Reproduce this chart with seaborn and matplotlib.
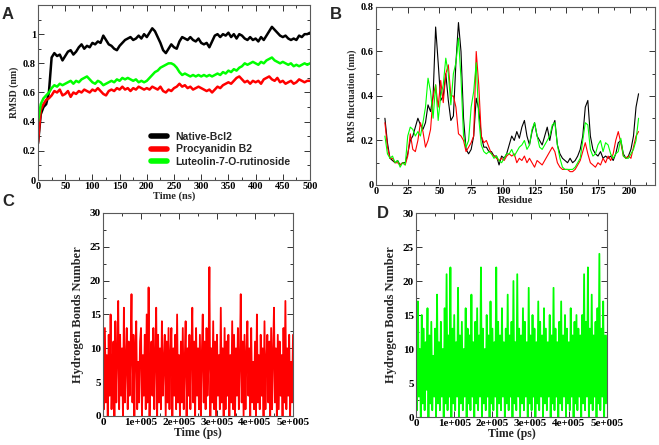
import numpy as np
import pandas as pd
import matplotlib
matplotlib.use("Agg")
import matplotlib.pyplot as plt
import seaborn as sns
from matplotlib.ticker import MultipleLocator

# ---------------- Panel A data (RMSD, nm) ----------------
time_ns = list(range(0, 501, 5))
rmsd_native = [
    0.25, 0.45, 0.50, 0.52, 0.60, 0.84, 0.87, 0.85, 0.86, 0.82,
    0.85, 0.88, 0.89, 0.86, 0.88, 0.91, 0.93, 0.90, 0.92, 0.91,
    0.94, 0.93, 0.95, 0.94, 0.99, 0.96, 0.93, 0.92, 0.90, 0.89,
    0.92, 0.94, 0.96, 0.97, 0.98, 0.96, 0.97, 0.99, 0.97, 1.00,
    0.98, 1.01, 1.04, 1.02, 0.98, 0.94, 0.89, 0.87, 0.90, 0.93,
    0.91, 0.90, 0.95, 0.98, 0.97, 0.96, 0.98, 0.96, 0.95, 0.97,
    0.94, 0.93, 0.94, 0.91, 0.95, 0.99, 1.00, 0.98, 1.00, 0.99,
    1.01, 0.98, 1.00, 0.97, 1.00, 0.99, 0.97, 0.96, 0.98, 0.96,
    0.97, 0.95, 0.98, 0.96, 0.99, 1.02, 1.05, 1.03, 1.01, 0.99,
    0.98, 0.99, 0.97, 0.96, 0.97, 0.96, 0.99, 0.98, 1.00, 1.00,
    1.01]
rmsd_procyanidin = [
    0.26, 0.48, 0.52, 0.55, 0.56, 0.58, 0.61, 0.60, 0.62, 0.58,
    0.59, 0.61, 0.57, 0.60, 0.59, 0.61, 0.60, 0.62, 0.61, 0.60,
    0.62, 0.61, 0.63, 0.61, 0.59, 0.58, 0.61, 0.62, 0.61, 0.63,
    0.62, 0.64, 0.62, 0.63, 0.61, 0.63, 0.62, 0.64, 0.63, 0.62,
    0.63, 0.62, 0.64, 0.63, 0.62, 0.64, 0.61, 0.60, 0.62, 0.61,
    0.63, 0.64, 0.66, 0.64, 0.65, 0.63, 0.64, 0.62, 0.63, 0.64,
    0.63, 0.62, 0.61, 0.62, 0.60, 0.62, 0.64, 0.63, 0.65, 0.66,
    0.67, 0.66, 0.68, 0.70, 0.71, 0.69, 0.67, 0.68, 0.66, 0.68,
    0.67, 0.68, 0.66, 0.69, 0.70, 0.71, 0.69, 0.68, 0.70, 0.67,
    0.68, 0.66, 0.67, 0.68, 0.66, 0.67, 0.69, 0.68, 0.67, 0.68,
    0.68]
rmsd_luteolin = [
    0.40, 0.52, 0.56, 0.58, 0.60, 0.63, 0.65, 0.64, 0.66, 0.65,
    0.66, 0.67, 0.68, 0.66, 0.68, 0.67, 0.69, 0.70, 0.71, 0.69,
    0.67, 0.66, 0.68, 0.67, 0.65, 0.66, 0.67, 0.68, 0.67, 0.69,
    0.68, 0.70, 0.69, 0.70, 0.69, 0.68, 0.69, 0.67, 0.68, 0.67,
    0.68, 0.70, 0.72, 0.74, 0.75, 0.77, 0.78, 0.79, 0.80, 0.80,
    0.79, 0.77, 0.74, 0.72, 0.73, 0.72, 0.71, 0.72, 0.71, 0.72,
    0.71, 0.72, 0.71, 0.72, 0.71, 0.72, 0.73, 0.72, 0.74, 0.73,
    0.75, 0.74, 0.76, 0.75, 0.77, 0.78, 0.80, 0.79, 0.80, 0.81,
    0.80, 0.79, 0.81, 0.80, 0.82, 0.83, 0.84, 0.82, 0.81, 0.80,
    0.81, 0.80, 0.79, 0.80, 0.78, 0.79, 0.78, 0.79, 0.80, 0.79,
    0.80]
series_names = ["Native-Bcl2", "Procyanidin B2", "Luteolin-7-O-rutinoside"]
series_colors = ["#000000", "#ff0000", "#00ff00"]

# ---------------- Panel B data (RMSF, nm) ----------------
residues = list(range(7, 208, 2))
rmsf_native = [
    0.30, 0.19, 0.12, 0.11, 0.10, 0.11, 0.09, 0.10, 0.10, 0.14,
    0.20, 0.22, 0.26, 0.30, 0.27, 0.25, 0.28, 0.36, 0.33, 0.40,
    0.71, 0.55, 0.38, 0.40, 0.50, 0.38, 0.29, 0.31, 0.55, 0.73,
    0.60, 0.30, 0.16, 0.14, 0.16, 0.22, 0.39, 0.34, 0.22, 0.17,
    0.17, 0.15, 0.15, 0.13, 0.13, 0.09, 0.13, 0.12, 0.14, 0.18,
    0.22, 0.20, 0.24, 0.21, 0.26, 0.29, 0.22, 0.18, 0.24, 0.28,
    0.22, 0.20, 0.18, 0.22, 0.26, 0.20, 0.26, 0.29, 0.18, 0.14,
    0.12, 0.11, 0.10, 0.12, 0.10, 0.11, 0.13, 0.16, 0.22, 0.35,
    0.38, 0.22, 0.16, 0.14, 0.13, 0.15, 0.12, 0.13, 0.12, 0.13,
    0.11, 0.14, 0.19, 0.20, 0.14, 0.12, 0.13, 0.16, 0.22, 0.35,
    0.41]
rmsf_procyanidin = [
    0.28, 0.17, 0.12, 0.12, 0.10, 0.10, 0.09, 0.10, 0.09, 0.13,
    0.23, 0.16, 0.15, 0.20, 0.28, 0.24, 0.17, 0.20, 0.25, 0.40,
    0.45, 0.35, 0.47, 0.37, 0.50, 0.54, 0.40, 0.40, 0.35, 0.23,
    0.22, 0.20, 0.15, 0.17, 0.19, 0.22, 0.60, 0.45, 0.22, 0.19,
    0.20, 0.17, 0.14, 0.13, 0.12, 0.11, 0.12, 0.11, 0.13, 0.14,
    0.13, 0.14, 0.10, 0.12, 0.11, 0.13, 0.10, 0.12, 0.10, 0.08,
    0.11, 0.10, 0.09, 0.11, 0.13, 0.15, 0.17, 0.15, 0.10, 0.08,
    0.07, 0.07, 0.07, 0.06, 0.06, 0.07, 0.09, 0.11, 0.15, 0.19,
    0.14, 0.10, 0.09, 0.08, 0.10, 0.09, 0.12, 0.10, 0.13, 0.11,
    0.14, 0.20, 0.24, 0.19, 0.13, 0.12, 0.13, 0.12, 0.17, 0.22,
    0.24]
rmsf_luteolin = [
    0.22, 0.14, 0.12, 0.13, 0.10, 0.11, 0.08, 0.10, 0.09, 0.22,
    0.26, 0.25, 0.22, 0.24, 0.22, 0.28, 0.35, 0.48, 0.42, 0.30,
    0.45, 0.29, 0.40, 0.45, 0.57, 0.50, 0.36, 0.50, 0.55, 0.66,
    0.48, 0.22, 0.17, 0.20, 0.35, 0.42, 0.55, 0.30, 0.18, 0.15,
    0.14, 0.15, 0.14, 0.12, 0.13, 0.11, 0.10, 0.12, 0.14, 0.14,
    0.16, 0.13, 0.15, 0.17, 0.18, 0.20, 0.16, 0.18, 0.25, 0.28,
    0.22, 0.17, 0.16, 0.18, 0.20, 0.22, 0.27, 0.28, 0.18, 0.12,
    0.08, 0.07, 0.07, 0.07, 0.07, 0.08, 0.10, 0.12, 0.20, 0.28,
    0.27, 0.16, 0.13, 0.14, 0.18, 0.20, 0.15, 0.19, 0.18, 0.14,
    0.12, 0.14, 0.15, 0.21, 0.13, 0.12, 0.12, 0.14, 0.16, 0.20,
    0.30]

# ---------------- Panels C / D data (H-bond counts) ----------------
time_ps = list(range(0, 500001, 2500))
hbond_procyanidin = [
    10, 1, 13, 2, 9, 0, 12, 3, 15, 1, 8, 11, 0, 14, 2, 9, 17, 1, 12, 3,
    10, 0, 16, 2, 8, 13, 1, 11, 3, 9, 18, 2, 12, 0, 10, 14, 1, 8, 2, 11,
    13, 0, 9, 3, 12, 1, 15, 2, 19, 0, 8, 11, 3, 13, 1, 9, 16, 0, 12, 2,
    10, 1, 14, 3, 8, 12, 0, 11, 2, 13, 1, 9, 13, 0, 10, 3, 12, 1, 15, 2,
    9, 0, 11, 2, 13, 1, 8, 14, 0, 10, 3, 12, 1, 9, 16, 2, 11, 0, 13, 3,
    10, 1, 12, 0, 9, 15, 2, 11, 1, 13, 3, 8, 22, 0, 10, 2, 14, 1, 11, 0,
    12, 3, 9, 1, 16, 2, 10, 0, 13, 1, 11, 3, 12, 0, 9, 2, 14, 1, 12, 0,
    10, 3, 13, 1, 8, 18, 2, 11, 0, 12, 1, 9, 14, 3, 10, 0, 13, 2, 8, 1,
    11, 0, 15, 2, 9, 1, 12, 3, 10, 0, 14, 1, 8, 12, 2, 11, 0, 13, 1, 9,
    16, 2, 10, 0, 12, 1, 11, 3, 9, 0, 13, 2, 17, 1, 10, 3, 12, 0, 8, 2,
    12]
hbond_luteolin = [
    12, 1, 17, 3, 10, 0, 15, 2, 13, 1, 11, 4, 16, 0, 12, 2, 14, 1, 9, 3,
    13, 0, 18, 2, 11, 1, 14, 3, 10, 0, 16, 2, 21, 1, 12, 3, 22, 0, 13, 2,
    15, 1, 11, 3, 19, 0, 12, 2, 14, 1, 10, 3, 16, 0, 13, 2, 12, 1, 18, 3,
    11, 0, 14, 2, 16, 1, 12, 3, 22, 0, 13, 2, 10, 1, 15, 3, 12, 0, 17, 2,
    13, 1, 11, 3, 22, 0, 14, 2, 12, 1, 16, 3, 11, 0, 13, 2, 18, 1, 12, 3,
    14, 0, 20, 2, 11, 1, 21, 3, 13, 0, 12, 2, 16, 1, 14, 3, 11, 0, 19, 2,
    12, 1, 15, 3, 13, 0, 11, 2, 17, 1, 14, 3, 12, 0, 16, 2, 13, 1, 11, 3,
    15, 0, 12, 2, 19, 1, 13, 3, 11, 0, 14, 2, 17, 1, 12, 3, 15, 0, 13, 2,
    11, 1, 16, 3, 12, 0, 14, 2, 15, 1, 13, 3, 12, 0, 15, 2, 21, 1, 14, 3,
    22, 0, 13, 2, 18, 1, 12, 3, 14, 0, 16, 2, 24, 1, 13, 3, 17, 0, 12, 2,
    12]
hb_ticks = [0, 100000, 200000, 300000, 400000, 500000]
hb_ticklabels = ["0", "1e+005", "2e+005", "3e+005", "4e+005", "5e+005"]

# ---------------- Styling ----------------
sns.set_style("ticks")
plt.rcParams['font.family'] = ['Liberation Serif', 'DejaVu Serif']
plt.rcParams['font.weight'] = 'bold'
plt.rcParams['axes.labelweight'] = 'bold'

fig = plt.figure(figsize=(6.59, 4.45), dpi=100)
axA = fig.add_axes([0.0577, 0.5955, 0.4127, 0.3933])
axB = fig.add_axes([0.5706, 0.5843, 0.4234, 0.4000])
axC = fig.add_axes([0.1563, 0.0652, 0.2883, 0.4562])
axD = fig.add_axes([0.6313, 0.0629, 0.2898, 0.4584])


def style(ax, fs):
    ax.tick_params(which='both', direction='in', top=True, right=True,
                   labelsize=fs, width=0.7, colors='0.2', labelcolor='black', pad=1.5)
    ax.tick_params(which='major', length=4)
    ax.tick_params(which='minor', length=2)
    for s in ax.spines.values():
        s.set_linewidth(0.8)
        s.set_color('0.35')
        s.set_zorder(5)
    for lab in ax.get_xticklabels() + ax.get_yticklabels():
        lab.set_fontweight('bold')


# Panel A
dfA = pd.DataFrame({
    "t": time_ns * 3,
    "v": rmsd_native + rmsd_procyanidin + rmsd_luteolin,
    "s": [series_names[0]] * len(time_ns) + [series_names[1]] * len(time_ns)
         + [series_names[2]] * len(time_ns),
})
sns.lineplot(data=dfA, x="t", y="v", hue="s", palette=series_colors,
             hue_order=series_names, estimator=None, lw=1.8, ax=axA)
axA.set_xlim(0, 500)
axA.set_ylim(0, 1.2)
axA.xaxis.set_major_locator(MultipleLocator(50))
axA.xaxis.set_minor_locator(MultipleLocator(25))
axA.set_yticks([0, 0.2, 0.4, 0.6, 0.8, 1.0])
axA.set_yticklabels(["0", "0.2", "0.4", "0.6", "0.8", "1"])
axA.yaxis.set_minor_locator(MultipleLocator(0.1))
axA.set_xlabel("Time (ns)", fontsize=7.5, labelpad=0)
axA.set_ylabel("RMSD (nm)", fontsize=7, labelpad=3)
style(axA, 7.5)
leg = axA.legend(loc="upper left", bbox_to_anchor=(0.38, 0.33), frameon=False,
                 handlelength=1.6, labelspacing=0.25, handletextpad=0.8,
                 prop={'family': 'Liberation Sans', 'weight': 'bold', 'size': 7.5})
for h in leg.get_lines():
    h.set_linewidth(4)

# Panel B
dfB = pd.DataFrame({
    "r": residues * 3,
    "v": rmsf_native + rmsf_procyanidin + rmsf_luteolin,
    "s": [series_names[0]] * len(residues) + [series_names[1]] * len(residues)
         + [series_names[2]] * len(residues),
})
sns.lineplot(data=dfB, x="r", y="v", hue="s", palette=series_colors,
             hue_order=series_names, estimator=None, lw=0.8, ax=axB, legend=False)
axB.set_xlim(0, 220)
axB.set_ylim(0, 0.8)
axB.xaxis.set_major_locator(MultipleLocator(25))
axB.xaxis.set_minor_locator(MultipleLocator(12.5))
axB.set_yticks([0, 0.2, 0.4, 0.6, 0.8])
axB.set_yticklabels(["0", "0.2", "0.4", "0.6", "0.8"])
axB.yaxis.set_minor_locator(MultipleLocator(0.1))
axB.set_xlabel("Residue", fontsize=7.5, labelpad=0)
axB.set_ylabel("RMS fluctuation (nm)", fontsize=7, labelpad=3)
style(axB, 7.5)

# Panels C and D
for ax, vals, col in [(axC, hbond_procyanidin, "#ff0000"), (axD, hbond_luteolin, "#00ff00")]:
    sns.lineplot(x=time_ps, y=vals, color=col, lw=1.3, estimator=None, ax=ax)
    ax.set_xlim(0, 500000)
    ax.set_ylim(0, 30)
    ax.set_xticks(hb_ticks)
    ax.set_xticklabels(hb_ticklabels)
    ax.xaxis.set_minor_locator(MultipleLocator(50000))
    ax.yaxis.set_major_locator(MultipleLocator(5))
    ax.yaxis.set_minor_locator(MultipleLocator(2.5))
    ax.set_xlabel("Time (ps)", fontsize=8.5, labelpad=0)
    ax.set_ylabel("Hydrogen Bonds Number", fontsize=9, labelpad=4)
    style(ax, 8)

# Panel letters
for txt, x, y in [("A", 0.003, 0.985), ("B", 0.500, 0.985), ("C", 0.003, 0.565), ("D", 0.572, 0.538)]:
    fig.text(x, y, txt, fontsize=12, fontweight='bold', family=['Liberation Sans', 'DejaVu Sans'],
             va='top', ha='left')

fig.savefig("out.png", dpi=100)
